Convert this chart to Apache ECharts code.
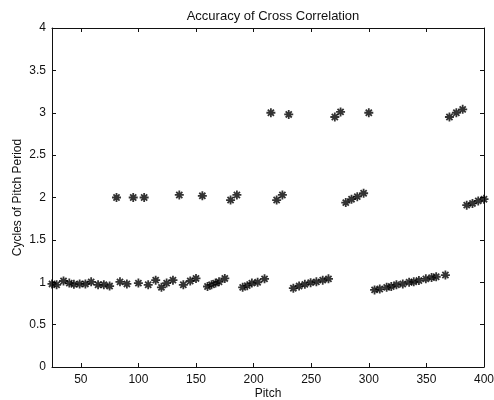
<!DOCTYPE html>
<html>
<head>
<meta charset="utf-8">
<script src="https://cdn.jsdelivr.net/npm/echarts@6/dist/echarts.min.js"></script>
<style>html,body{margin:0;padding:0;background:#fff}#c{width:494px;height:400px}</style>
</head>
<body>
<div id="c"></div>
<script>
const pitch = [25,29,35,40,44,49,54,59,65,70,75,81,84,90,95.5,100,105,108.5,115,120,124.5,130,135.5,139,145,150,155.5,160,163.5,167,170,175,180,185.5,190.5,194.5,198.5,203.5,209.5,215,220,225,230.5,234.5,239.5,244.5,249.5,254.5,260,265,270.5,275.5,280,285,290,295.5,300,305,309.5,315.5,319.5,324,329.5,335,339,343.5,349.5,354.5,358.5,366.5,370,376,381.5,385,390,395,400];
const cycles = [0.98,0.97,1.015,0.99,0.975,0.98,0.98,1.005,0.97,0.97,0.955,2.0,1.005,0.98,2.0,0.99,2.0,0.97,1.025,0.94,0.99,1.025,2.03,0.97,1.015,1.045,2.02,0.95,0.97,0.99,1.005,1.045,1.97,2.03,0.94,0.96,0.99,1.0,1.04,3.0,1.97,2.03,2.98,0.93,0.955,0.975,0.995,1.005,1.025,1.04,2.95,3.01,1.94,1.98,2.01,2.05,3.0,0.91,0.92,0.94,0.95,0.97,0.98,1.0,1.005,1.02,1.04,1.055,1.065,1.085,2.95,3.0,3.04,1.91,1.93,1.96,1.98];
const xTicks = [50,100,150,200,250,300,350,400];
const titleText = 'Accuracy of Cross Correlation';
const xName = 'Pitch';
const yName = 'Cycles of Pitch Period';

const font = 'Liberation Sans, Arial, sans-serif';
const axisCol = '#111';
const chart = echarts.init(document.getElementById('c'), null, {renderer:'canvas'});
const star = 'path://M5,0 L5,10 M0,5 L10,5 M1.6,1.6 L8.4,8.4 M8.4,1.6 L1.6,8.4';
const common = {
  axisLine:{show:true, onZero:false, lineStyle:{color:axisCol, width:1}},
  splitLine:{show:false}
};
chart.setOption({
  animation:false,
  backgroundColor:'#fff',
  title:{text:titleText, left:268, textAlign:'center', top:5,
    textStyle:{fontFamily:font, fontSize:13, fontWeight:'normal', color:'#111'}},
  grid:{left:52, right:10, top:28, bottom:33, outerBoundsMode:'none', containLabel:false},
  xAxis:[
    Object.assign({type:'value', min:25, max:400, position:'bottom',
      name:xName, nameLocation:'middle', nameGap:21, nameMoveOverlap:false,
      nameTextStyle:{fontFamily:font, fontSize:12, color:'#111', verticalAlign:'top'},
      axisTick:{show:true, inside:true, length:4, customValues:xTicks, lineStyle:{color:axisCol}},
      axisLabel:{show:true, margin:7, customValues:xTicks, fontFamily:font, fontSize:12, color:'#111'}}, common),
    Object.assign({type:'value', min:25, max:400, position:'top',
      axisTick:{show:true, inside:true, length:4, customValues:xTicks, lineStyle:{color:axisCol}},
      axisLabel:{show:false}}, common)
  ],
  yAxis:[
    Object.assign({type:'value', min:0, max:4, interval:0.5, position:'left',
      name:yName, nameLocation:'middle', nameGap:28, nameMoveOverlap:false,
      nameTextStyle:{fontFamily:font, fontSize:12, color:'#111'},
      axisTick:{show:true, inside:true, length:4, lineStyle:{color:axisCol}},
      axisLabel:{show:true, margin:6, fontFamily:font, fontSize:12, color:'#111'}}, common),
    Object.assign({type:'value', min:0, max:4, interval:0.5, position:'right',
      axisTick:{show:true, inside:true, length:4, lineStyle:{color:axisCol}},
      axisLabel:{show:false}}, common)
  ],
  series:[{
    type:'scatter',
    data:pitch.map((p,i)=>[p, cycles[i]]),
    symbol:star,
    symbolSize:9,
    itemStyle:{color:'rgba(0,0,0,0)', borderColor:'#000', borderWidth:1.8},
    clip:false
  }]
});
</script>
</body>
</html>
